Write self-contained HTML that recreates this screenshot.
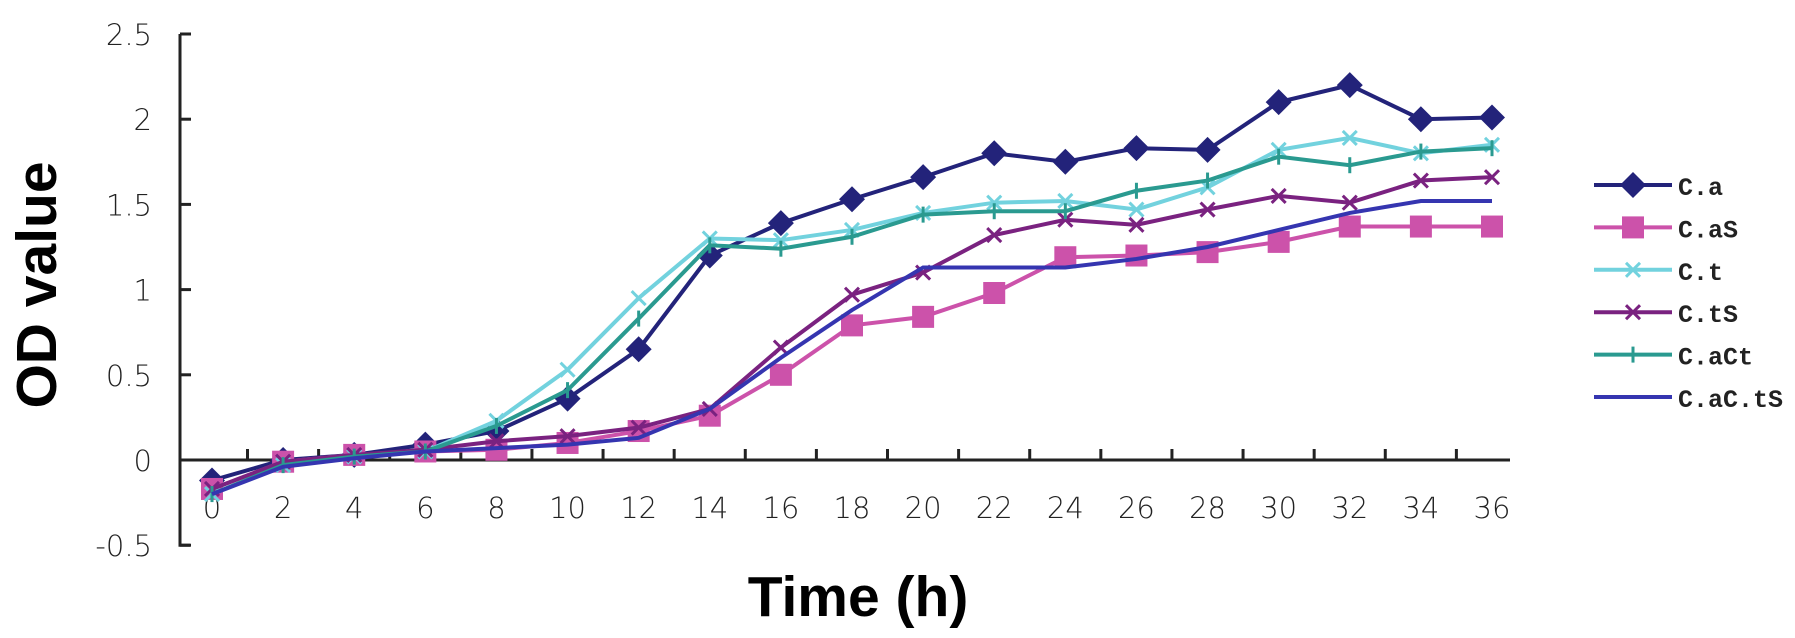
<!DOCTYPE html>
<html><head><meta charset="utf-8"><style>
body{margin:0;background:#fff;}
svg{display:block;}
.tick{font-family:"DejaVu Sans","Liberation Sans",sans-serif;font-size:29px;fill:#222;font-weight:300;}
.leg{font-family:"Liberation Mono",monospace;font-size:25px;fill:#222;font-weight:bold;}
</style></head><body>
<svg id="chart" width="1795" height="638" viewBox="0 0 1795 638" xmlns="http://www.w3.org/2000/svg">
<g id="axes"></g>
<g id="series"></g>
<g id="legend"></g>
<text x="858" y="616" text-anchor="middle" font-family="Liberation Sans, sans-serif" font-weight="bold" font-size="57">Time (h)</text>
<text transform="translate(56,285) rotate(-90)" text-anchor="middle" font-family="Liberation Sans, sans-serif" font-weight="bold" font-size="57">OD value</text>
</svg>
<script>
const categories=[0,2,4,6,8,10,12,14,16,18,20,22,24,26,28,30,32,34,36];
const yTicks=[-0.5,0,0.5,1,1.5,2,2.5];
const yTickLabels=["-0.5","0","0.5","1","1.5","2","2.5"];
const seriesNames=["C.a","C.aS","C.t","C.tS","C.aCt","C.aC.tS"];
const sCa=[-0.12,0.0,0.03,0.09,0.17,0.36,0.65,1.2,1.39,1.53,1.66,1.8,1.75,1.83,1.82,2.1,2.2,2.0,2.01];
const sCaS=[-0.17,-0.01,0.03,0.05,0.06,0.1,0.17,0.26,0.5,0.79,0.84,0.98,1.19,1.2,1.22,1.28,1.37,1.37,1.37];
const sCt=[-0.2,-0.03,0.02,0.05,0.23,0.53,0.95,1.3,1.29,1.35,1.45,1.51,1.52,1.47,1.6,1.82,1.89,1.8,1.85];
const sCtS=[-0.17,-0.01,0.03,0.06,0.11,0.14,0.19,0.3,0.66,0.97,1.1,1.32,1.41,1.38,1.47,1.55,1.51,1.64,1.66];
const sCaCt=[-0.2,-0.03,0.02,0.05,0.2,0.41,0.83,1.26,1.24,1.31,1.44,1.46,1.46,1.58,1.64,1.78,1.73,1.81,1.83];
const sCaCtS=[-0.2,-0.04,0.01,0.05,0.07,0.09,0.13,0.3,0.6,0.88,1.13,1.13,1.13,1.18,1.25,1.35,1.45,1.52,1.52];

const NS="http://www.w3.org/2000/svg";
const X=h=>212+h*(1492-212)/36;
const Y=v=>460-v*170.4;
function mk(tag,attrs,parent){const e=document.createElementNS(NS,tag);for(const k in attrs)e.setAttribute(k,attrs[k]);parent.appendChild(e);return e;}
const axes=document.getElementById('axes');
let e=mk('path',{d:`M180,${Y(2.5)} L180,${Y(-0.5)} L190,${Y(-0.5)}`,stroke:'#222','stroke-width':3,fill:'none'},axes);


e=mk('line',{x1:180,x2:1510,y1:Y(0),y2:Y(0),stroke:'#222','stroke-width':3},axes);


yTicks.forEach((v,i)=>{
  const t=mk('line',{x1:180,x2:191,y1:Y(v),y2:Y(v),stroke:'#222','stroke-width':3},axes);
  
  
  const l=mk('text',{x:152,y:Y(v)+11,'text-anchor':'end',class:'tick'},axes);l.textContent=yTickLabels[i];
  
  
});
categories.forEach((c,i)=>{
  const tx=X(c)+35.5;
  if(i<categories.length-1){const t=mk('line',{x1:tx,x2:tx,y1:Y(0),y2:Y(0)-11,stroke:'#222','stroke-width':3},axes);
  
  }
  const l=mk('text',{x:X(c),y:518,'text-anchor':'middle',class:'tick'},axes);l.textContent=c;
  
  
});
const colors=["#23237a","#cc52aa","#72d2de","#7a2280","#2a9a90","#3535b0"];
const markers=["diamond","square","x","x","plus","none"];
const data=[sCa,sCaS,sCt,sCtS,sCaCt,sCaCtS];
function marker(g,type,x,y,c){
  let m=null;
  if(type==="diamond")m=mk('path',{d:`M${x},${y-13} L${x+13},${y} L${x},${y+13} L${x-13},${y} Z`,fill:c},g);
  else if(type==="square")m=mk('rect',{x:x-11,y:y-11,width:22,height:22,fill:c},g);
  else if(type==="x")m=mk('path',{d:`M${x-7},${y-7} L${x+7},${y+7} M${x+7},${y-7} L${x-7},${y+7}`,stroke:c,'stroke-width':3},g);
  else if(type==="plus")m=mk('path',{d:`M${x},${y-8} L${x},${y+8}`,stroke:c,'stroke-width':3},g);
  if(m){
  }
}
const sg=document.getElementById('series');
data.forEach((arr,si)=>{
  const g=mk('g',{},sg);
  
  
  const p=mk('polyline',{points:arr.map((v,i)=>X(categories[i])+','+Y(v)).join(' '),fill:'none',stroke:colors[si],'stroke-width':4},g);
  
  
  arr.forEach((v,i)=>marker(g,markers[si],X(categories[i]),Y(v),colors[si]));
});
const lg=document.getElementById('legend');
seriesNames.forEach((n,i)=>{
  const y=185+i*42.4;
  const g=mk('g',{},lg);
  
  
  mk('line',{x1:1594,x2:1672,y1:y,y2:y,stroke:colors[i],'stroke-width':4},g);
  marker(g,markers[i],1633,y,colors[i]);
  const t=mk('text',{x:1678,y:y+10,class:'leg'},g);t.textContent=n;
  
  
});
</script>
</body></html>
